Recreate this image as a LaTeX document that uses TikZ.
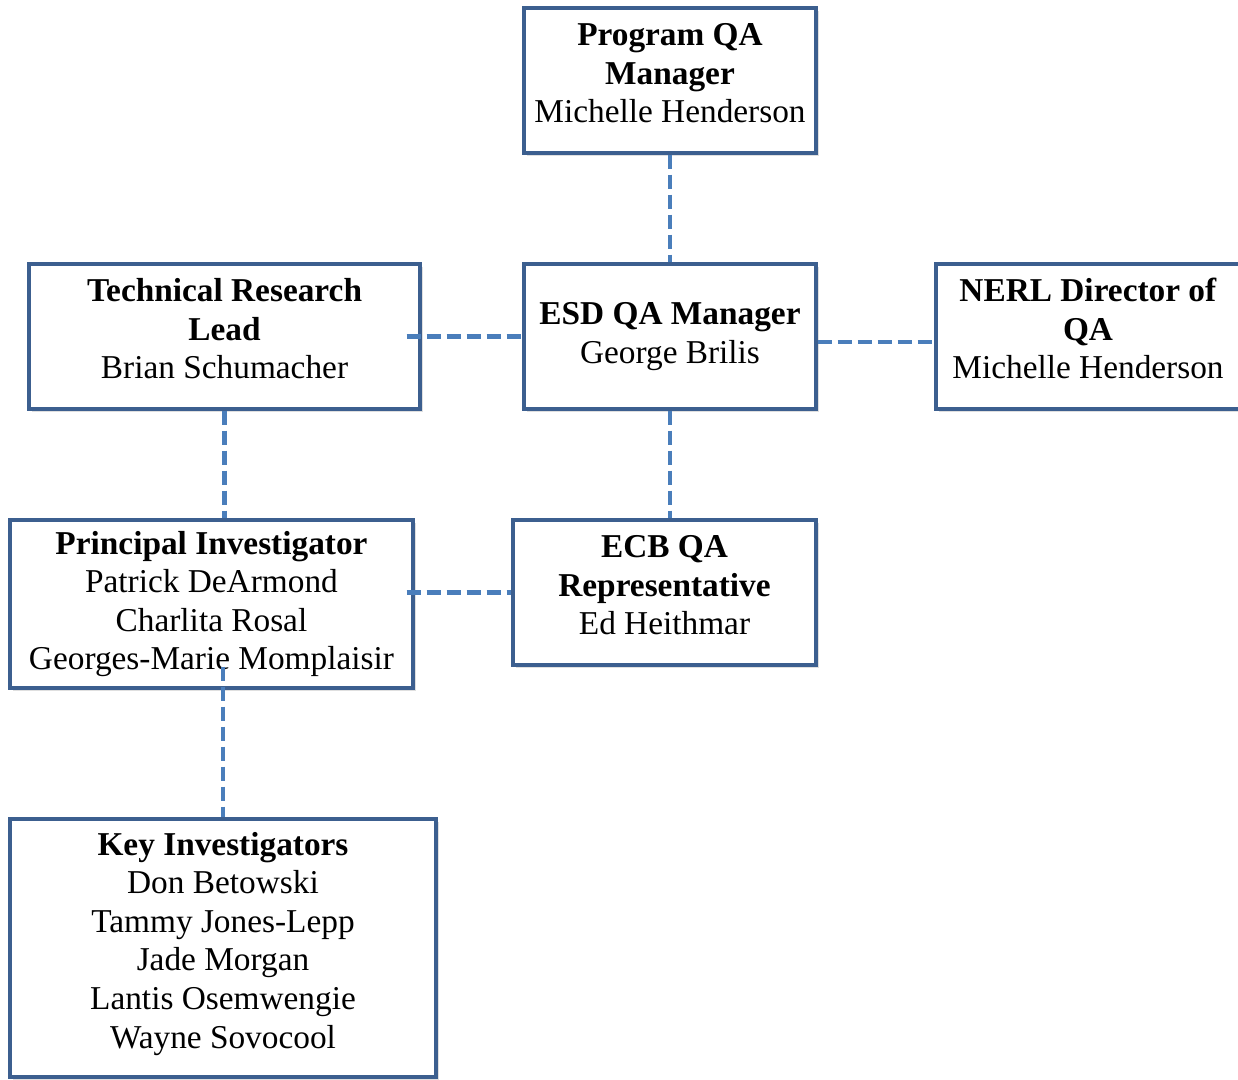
\documentclass[tikz,border=0pt]{standalone}
\usepackage{fontspec}
\setmainfont{Liberation Serif}
\usetikzlibrary{shadows,calc}
\definecolor{boxline}{HTML}{3C5F8F}
\definecolor{conncol}{HTML}{4A7EBB}
\newcommand\uptext[1]{\raisebox{3pt}[\height][\depth]{\begin{tabular}{@{}c@{}}#1\end{tabular}}}
\begin{document}
\begin{tikzpicture}[x=0.75pt,y=-0.75pt,
  orgbox/.style={draw=boxline, line width=2.5pt, fill=white, align=center, inner sep=0pt,
    font=\fontsize{25}{28.9}\selectfont,
    drop shadow={opacity=0.25, shadow xshift=2pt, shadow yshift=-2pt}},
  conn/.style={draw=conncol, line width=3.3pt, dash pattern=on 10.5pt off 4.5pt}]
\useasboundingbox (0,0) rectangle (1238,1079);
\node[orgbox, minimum width=219pt, minimum height=108.75pt] (prog) at (670,80.5)
  {\uptext{\textbf{Program QA}\\\textbf{Manager}\\Michelle Henderson}};
\node[orgbox, minimum width=219pt, minimum height=108.75pt] (esd) at (670,336.5)
  {\textbf{ESD QA Manager}\\George Brilis};
\node[orgbox, minimum width=228pt, minimum height=108.75pt] (nerl) at (1088,336.5)
  {\uptext{\textbf{NERL Director of}\\\textbf{QA}\\Michelle Henderson}};
\node[orgbox, minimum width=293.25pt, minimum height=108.75pt] (trl) at (224.5,336.5)
  {\uptext{\textbf{Technical Research}\\\textbf{Lead}\\Brian Schumacher}};
\node[orgbox, minimum width=302.25pt, minimum height=126pt] (pi) at (211.5,604)
  {\textbf{Principal Investigator}\\Patrick DeArmond\\Charlita Rosal\\Georges-Marie Momplaisir};
\node[orgbox, minimum width=227.25pt, minimum height=108.75pt] (ecb) at (664.5,592.5)
  {\uptext{\textbf{ECB QA}\\\textbf{Representative}\\Ed Heithmar}};
\node[orgbox, minimum width=319.5pt, minimum height=193.5pt] (key) at (223,948)
  {\uptext{\textbf{Key Investigators}\\Don Betowski\\Tammy Jones-Lepp\\Jade Morgan\\Lantis Osemwengie\\Wayne Sovocool}};
\draw[conn] (prog.south) -- (esd.north);
\draw[conn] ($(esd.west -| trl.east)+(-15,0)$) -- (esd.west);
\draw[conn] ([yshift=-4pt]esd.east) -- ([yshift=-4pt]nerl.west);
\draw[conn] (trl.south) -- (trl.south |- pi.north);
\draw[conn] (esd.south) -- (esd.south |- ecb.north);
\draw[conn] ($(pi.east |- ecb.west)+(-8,0)$) -- (ecb.west);
\draw[conn] ($(key.north |- pi.south)+(0,-23)$) -- (key.north);
\end{tikzpicture}
\end{document}
